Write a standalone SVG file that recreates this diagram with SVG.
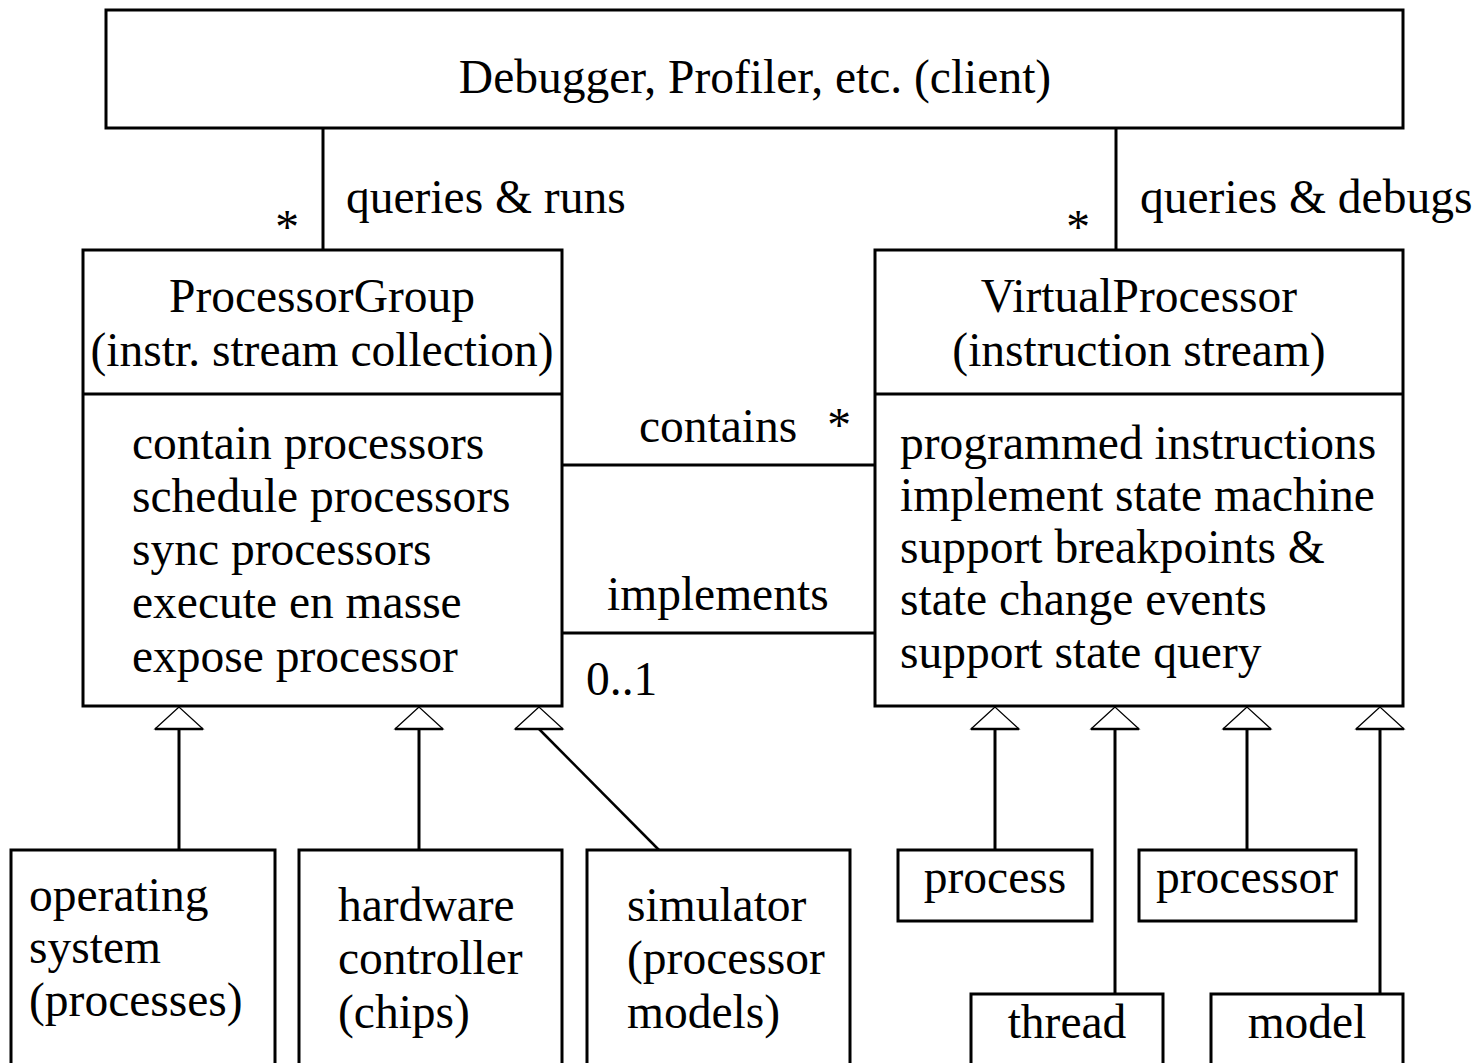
<svg xmlns="http://www.w3.org/2000/svg" width="1480" height="1063" viewBox="0 0 1480 1063">
  <style>
    text { font-family: "Liberation Serif", "Times New Roman", serif; font-size: 47.5px; fill: #000; }
    .mid { text-anchor: middle; }
    .box { fill: #fff; stroke: #000; stroke-width: 3; }
    .wire { fill: none; stroke: #000; stroke-width: 3; }
    .diag { fill: none; stroke: #000; stroke-width: 2.5; }
    .tri { fill: #fff; stroke: #000; stroke-width: 1.2; }
    .triBase { stroke: #000; stroke-width: 2.5; }
  </style>
  <defs>
    <!-- open generalization triangle, apex at origin -->
    <g id="gen">
      <polygon class="tri" points="0,0 -24,22 24,22"/>
      <line class="triBase" x1="-24" y1="22" x2="24" y2="22"/>
    </g>
  </defs>
  <rect width="1480" height="1063" fill="#fff"/>

  <!-- associations and inheritance lines -->
  <g id="connectors">
    <line class="wire" x1="323" y1="128" x2="323" y2="250"/>
    <line class="wire" x1="1116" y1="128" x2="1116" y2="250"/>
    <line class="wire" x1="562" y1="465" x2="875" y2="465"/>
    <line class="wire" x1="562" y1="633" x2="875" y2="633"/>

    <line class="wire" x1="179" y1="729" x2="179" y2="850"/>
    <line class="wire" x1="419" y1="729" x2="419" y2="850"/>
    <line class="diag" x1="539" y1="729" x2="659" y2="850"/>
    <use href="#gen" x="179" y="707"/>
    <use href="#gen" x="419" y="707"/>
    <use href="#gen" x="539" y="707"/>

    <line class="wire" x1="995" y1="729" x2="995" y2="850"/>
    <line class="wire" x1="1115" y1="729" x2="1115" y2="994"/>
    <line class="wire" x1="1247" y1="729" x2="1247" y2="850"/>
    <line class="wire" x1="1380" y1="729" x2="1380" y2="994"/>
    <use href="#gen" x="995" y="707"/>
    <use href="#gen" x="1115" y="707"/>
    <use href="#gen" x="1247" y="707"/>
    <use href="#gen" x="1380" y="707"/>

    <text x="346" y="213">queries &amp; runs</text>
    <text x="287" y="243" class="mid">*</text>
    <text x="1140" y="213">queries &amp; debugs</text>
    <text x="1078" y="243" class="mid">*</text>
    <text x="639" y="442">contains</text>
    <text x="839" y="441" class="mid">*</text>
    <text x="607" y="610">implements</text>
    <text x="586" y="695">0..1</text>
  </g>

  <g id="client">
    <rect class="box" x="106" y="10" width="1297" height="118"/>
    <text x="755" y="93" class="mid">Debugger, Profiler, etc. (client)</text>
  </g>

  <g id="processor-group">
    <rect class="box" x="83" y="250" width="479" height="456"/>
    <line class="wire" x1="83" y1="394" x2="562" y2="394"/>
    <text x="322" y="312" class="mid">ProcessorGroup</text>
    <text x="322" y="366" class="mid">(instr. stream collection)</text>
    <text x="132" y="459">contain processors</text>
    <text x="132" y="512">schedule processors</text>
    <text x="132" y="565">sync processors</text>
    <text x="132" y="618">execute en masse</text>
    <text x="132" y="672">expose processor</text>
  </g>

  <g id="virtual-processor">
    <rect class="box" x="875" y="250" width="528" height="456"/>
    <line class="wire" x1="875" y1="394" x2="1403" y2="394"/>
    <text x="1139" y="312" class="mid">VirtualProcessor</text>
    <text x="1139" y="366" class="mid">(instruction stream)</text>
    <text x="900" y="459">programmed instructions</text>
    <text x="900" y="511">implement state machine</text>
    <text x="900" y="563">support breakpoints &amp;</text>
    <text x="900" y="615">state change events</text>
    <text x="900" y="668">support state query</text>
  </g>

  <g id="operating-system">
    <rect class="box" x="11" y="850" width="264" height="240"/>
    <text x="29" y="911">operating</text>
    <text x="29" y="963">system</text>
    <text x="29" y="1016">(processes)</text>
  </g>

  <g id="hardware-controller">
    <rect class="box" x="299" y="850" width="263" height="240"/>
    <text x="338" y="921">hardware</text>
    <text x="338" y="974">controller</text>
    <text x="338" y="1028">(chips)</text>
  </g>

  <g id="simulator">
    <rect class="box" x="587" y="850" width="263" height="240"/>
    <text x="627" y="921">simulator</text>
    <text x="627" y="974">(processor</text>
    <text x="627" y="1028">models)</text>
  </g>

  <g id="process">
    <rect class="box" x="898" y="850" width="194" height="71"/>
    <text x="995" y="893" class="mid">process</text>
  </g>

  <g id="processor">
    <rect class="box" x="1139" y="850" width="217" height="71"/>
    <text x="1247" y="893" class="mid">processor</text>
  </g>

  <g id="thread">
    <rect class="box" x="971" y="994" width="192" height="100"/>
    <text x="1067" y="1038" class="mid">thread</text>
  </g>

  <g id="model">
    <rect class="box" x="1211" y="994" width="192" height="100"/>
    <text x="1307" y="1038" class="mid">model</text>
  </g>
</svg>
